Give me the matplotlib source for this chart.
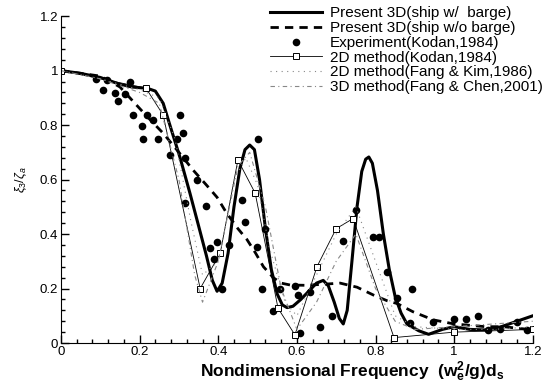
import matplotlib.pyplot as plt
from matplotlib.ticker import MultipleLocator, FuncFormatter

plt.rcParams['font.family'] = ['Liberation Sans', 'DejaVu Sans']
plt.rcParams['mathtext.fontset'] = 'custom'
plt.rcParams['mathtext.rm'] = 'Liberation Sans'
plt.rcParams['mathtext.it'] = 'Liberation Sans:italic'
plt.rcParams['mathtext.bf'] = 'Liberation Sans:bold'

# Present 3D (ship w/ barge)
x_with = [0, 0.05, 0.1, 0.15, 0.18, 0.22, 0.24, 0.26, 0.277, 0.29, 0.303, 0.328, 0.35, 0.37, 0.385, 0.397,
          0.41, 0.425, 0.44, 0.455, 0.468, 0.48, 0.492, 0.505, 0.52, 0.535, 0.55, 0.563, 0.575, 0.59, 0.61,
          0.63, 0.65, 0.667, 0.68, 0.695, 0.708, 0.718, 0.728, 0.74, 0.753, 0.765, 0.775, 0.783, 0.792,
          0.805, 0.82, 0.835, 0.85, 0.865, 0.88, 0.91, 0.935, 0.97, 1.0, 1.04, 1.08, 1.11, 1.14, 1.17, 1.2]
y_with = [1.0, 0.99, 0.975, 0.95, 0.94, 0.935, 0.925, 0.88, 0.80, 0.74, 0.68, 0.55, 0.43, 0.32, 0.23, 0.19,
          0.22, 0.33, 0.5, 0.64, 0.71, 0.727, 0.71, 0.6, 0.42, 0.27, 0.18, 0.14, 0.13, 0.135, 0.16,
          0.19, 0.22, 0.23, 0.21, 0.15, 0.09, 0.07, 0.12, 0.3, 0.5, 0.63, 0.675, 0.683, 0.66,
          0.56, 0.40, 0.27, 0.17, 0.11, 0.07, 0.045, 0.032, 0.05, 0.06, 0.05, 0.048, 0.055, 0.07, 0.085, 0.10]

# Present 3D (ship w/o barge)
x_without = [0, 0.1, 0.15, 0.188, 0.22, 0.26, 0.3, 0.336, 0.37, 0.397, 0.42, 0.45, 0.473, 0.495, 0.515,
             0.54, 0.56, 0.583, 0.62, 0.66, 0.71, 0.753, 0.795, 0.83, 0.855, 0.895, 0.947, 1.0, 1.08,
             1.125, 1.19]
y_without = [1.0, 0.98, 0.94, 0.88, 0.83, 0.77, 0.70, 0.635, 0.58, 0.535, 0.48, 0.42, 0.38, 0.33, 0.28,
             0.24, 0.22, 0.213, 0.212, 0.215, 0.22, 0.205, 0.176, 0.155, 0.145, 0.115, 0.085, 0.07, 0.06,
             0.06, 0.05]

# Experiment (Kodan, 1984)
x_exp = [0.09, 0.117, 0.107, 0.137, 0.145, 0.163, 0.175, 0.183, 0.219, 0.206, 0.209, 0.247, 0.234, 0.303, 0.31,
         0.295, 0.277, 0.316, 0.346, 0.316, 0.369, 0.46, 0.5, 0.468, 0.379, 0.397, 0.389, 0.427, 0.41, 0.511,
         0.498, 0.519, 0.557, 0.595, 0.54, 0.608, 0.603, 0.634, 0.659, 0.69, 0.718, 0.75, 0.794, 0.81, 0.83,
         0.893, 0.855, 0.888, 0.947, 1.0, 1.03, 1.06, 1.087, 1.117, 1.16, 1.186]
y_exp = [0.97, 0.965, 0.93, 0.917, 0.89, 0.914, 0.96, 0.837, 0.837, 0.796, 0.75, 0.75, 0.818, 0.837, 0.77,
         0.75, 0.69, 0.68, 0.598, 0.514, 0.503, 0.525, 0.749, 0.445, 0.35, 0.372, 0.31, 0.36, 0.2, 0.2,
         0.353, 0.42, 0.2, 0.21, 0.117, 0.037, 0.176, 0.187, 0.06, 0.1, 0.374, 0.49, 0.39, 0.39, 0.26,
         0.2, 0.165, 0.073, 0.077, 0.087, 0.09, 0.1, 0.048, 0.05, 0.077, 0.048]

# 2D method (Kodan, 1984)
x_kodan = [0, 0.216, 0.26, 0.354, 0.405, 0.45, 0.494, 0.552, 0.595, 0.651, 0.70, 0.743, 0.847, 1.0, 1.2]
y_kodan = [1.0, 0.936, 0.837, 0.2, 0.33, 0.672, 0.55, 0.128, 0.03, 0.28, 0.42, 0.457, 0.02, 0.04, 0.05]

# 2D method (Fang & Kim, 1986)
x_fk = [0, 0.1, 0.2, 0.25, 0.29, 0.33, 0.36, 0.4, 0.44, 0.47, 0.5, 0.53, 0.57, 0.6, 0.65, 0.7, 0.75, 0.8,
        0.85, 0.9, 1.0, 1.1, 1.2]
y_fk = [1.0, 0.97, 0.93, 0.9, 0.75, 0.45, 0.25, 0.3, 0.6, 0.68, 0.58, 0.35, 0.15, 0.1, 0.25, 0.4, 0.5, 0.3,
        0.1, 0.06, 0.05, 0.05, 0.06]

# 3D method (Fang & Chen, 2001)
x_fc = [0, 0.1, 0.2, 0.25, 0.3, 0.34, 0.36, 0.4, 0.45, 0.48, 0.52, 0.56, 0.6, 0.65, 0.7, 0.75, 0.8, 0.85,
        0.9, 1.0, 1.1, 1.2]
y_fc = [1.0, 0.97, 0.92, 0.88, 0.6, 0.25, 0.15, 0.3, 0.65, 0.7, 0.5, 0.2, 0.05, 0.15, 0.3, 0.4, 0.2, 0.08,
        0.05, 0.06, 0.07, 0.08]

fig = plt.figure(figsize=(5.47, 3.85), dpi=100)
ax = fig.add_axes([0.1115, 0.109, 0.8625, 0.849])

ax.plot(x_with, y_with, color='black', lw=2.2, label='Present 3D(ship w/  barge)')
ax.plot(x_without, y_without, color='black', lw=2.0, dashes=(3, 2.2), label='Present 3D(ship w/o barge)')
ax.plot(x_exp, y_exp, 'o', color='black', ms=5.5, mew=0, label='Experiment(Kodan,1984)')
ax.plot(x_kodan, y_kodan, color='black', lw=0.6, marker='s', ms=5, mfc='white', mec='black', mew=0.7,
        label='2D method(Kodan,1984)')
ax.plot(x_fk, y_fk, color='#888888', lw=0.8, ls=(0, (1, 4)), label='2D method(Fang & Kim,1986)')
ax.plot(x_fc, y_fc, color='#888888', lw=0.8, ls=(0, (4, 3, 1, 3)), label='3D method(Fang & Chen,2001)')

ax.set_xlim(0, 1.2)
ax.set_ylim(0, 1.2)
ax.xaxis.set_major_locator(MultipleLocator(0.2))
ax.xaxis.set_minor_locator(MultipleLocator(0.04))
ax.yaxis.set_major_locator(MultipleLocator(0.2))
ax.yaxis.set_minor_locator(MultipleLocator(0.04))
fmt = FuncFormatter(lambda v, p: f"{v:.1f}".rstrip('0').rstrip('.') if v else "0")
ax.xaxis.set_major_formatter(fmt)
ax.yaxis.set_major_formatter(fmt)
ax.tick_params(which='major', direction='in', length=6, width=1, labelsize=9.5, pad=2)
ax.tick_params(which='minor', direction='in', length=3, width=1)
ax.spines['top'].set_visible(False)
ax.spines['right'].set_visible(False)

fig.text(0.643, 0.02, r'Nondimensional Frequency  $\mathbf{(w_e^2/g)d_s}$', fontsize=12.5,
         fontweight='bold', ha='center', va='baseline')
ax.text(-0.1, 0.6, r'$\xi_3/\zeta_a$', rotation=90, fontsize=9, ha='center', va='center',
        transform=ax.transData, clip_on=False)

ax.legend(loc='upper left', bbox_to_anchor=(0.443, 1.03), frameon=False, fontsize=11, handlelength=3.4,
          labelspacing=0.05, handletextpad=0.5, borderaxespad=0, borderpad=0)

fig.savefig('out.png', dpi=100)
